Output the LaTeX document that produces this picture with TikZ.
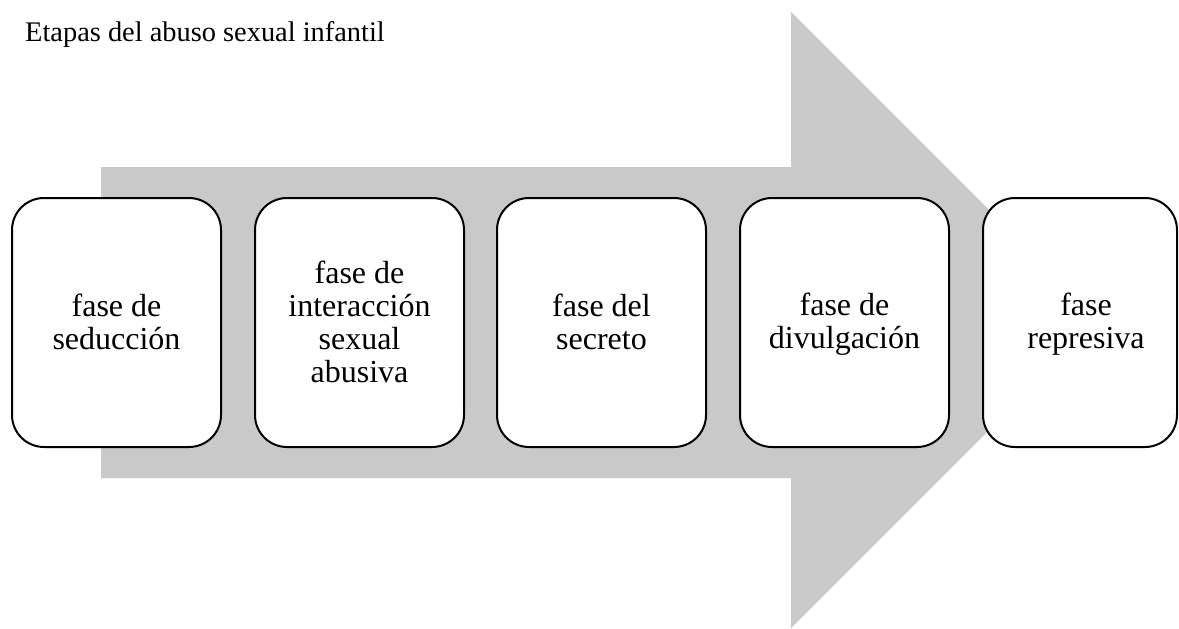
\documentclass[tikz,border=0pt]{standalone}
\usepackage{fontspec}
\setmainfont{Liberation Serif}
\definecolor{arrowgray}{HTML}{C9C9C9}
\newcommand\lnstrut{\rule[-6.5pt]{0pt}{33pt}}
\newcommand\pushright{\hspace*{12pt}}
\begin{document}
\begin{tikzpicture}[x=1pt,y=-1pt,
  stagebox/.style={draw=black, line width=2pt, fill=white, rounded corners=32pt,
    minimum width=209pt, minimum height=249pt, align=center,
    font=\fontsize{32}{33}\selectfont, inner sep=0pt},
  titletext/.style={anchor=base west, inner sep=0pt, font=\fontsize{28.4}{32}\selectfont}]
\useasboundingbox (0,0) rectangle (1179,629);
\fill[arrowgray] (101,167) -- (791,167) -- (791,12) -- (1099,320) -- (791,628) -- (791,478) -- (101,478) -- cycle;
\node[titletext] (title) at (25,41) {Etapas del abuso sexual infantil};
\node[stagebox] (s1) at (116.5,322.5) {\lnstrut fase de\\\lnstrut seducción};
\node[stagebox] (s2) at (359.5,322.5) {\lnstrut fase de\\\lnstrut interacción\\\lnstrut sexual\\\lnstrut abusiva};
\node[stagebox] (s3) at (601.5,322.5) {\lnstrut fase del\\\lnstrut secreto};
\node[stagebox] (s4) at (844.5,322.5) {\lnstrut fase de\\\lnstrut divulgación};
\node[stagebox, minimum width=194pt] (s5) at (1080,322.5) {\pushright\lnstrut fase\\\pushright\lnstrut represiva};
\end{tikzpicture}
\end{document}
